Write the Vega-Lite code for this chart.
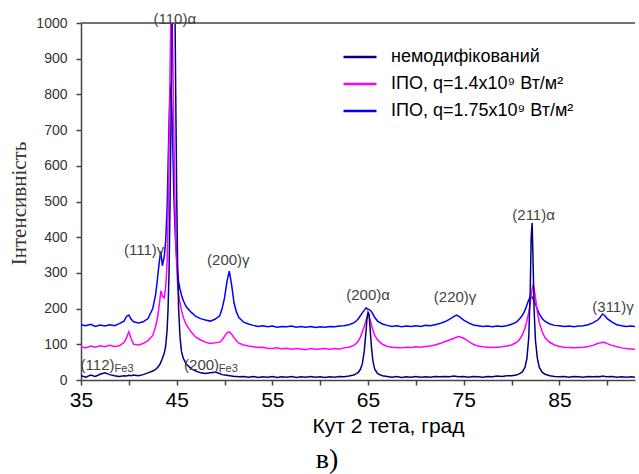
{
  "$schema": "https://vega.github.io/schema/vega-lite/v6.json",
  "width": 554,
  "height": 357,
  "autosize": {"type": "none"},
  "padding": {"left": 81, "top": 23, "right": 4, "bottom": 94},
  "background": "white",
  "config": {
    "font": "Liberation Sans",
    "view": {"stroke": null},
    "axis": {"grid": false, "domainColor": "#444", "tickColor": "#444", "domainWidth": 1.5, "tickWidth": 1.5}
  },
  "title": {"text": "в)", "orient": "bottom", "anchor": "middle", "font": "Liberation Serif", "fontSize": 28, "fontWeight": "normal", "color": "#000", "dx": -31, "offset": 10},
  "datasets": {
    "xrd": [
      {"x":35.0,"n":12,"m":93,"b":155},
      {"x":35.5,"n":8,"m":90,"b":152},
      {"x":36.0,"n":14,"m":95,"b":156},
      {"x":36.5,"n":10,"m":92,"b":150},
      {"x":37.0,"n":16,"m":96,"b":154},
      {"x":37.5,"n":20,"m":93,"b":151},
      {"x":38.0,"n":15,"m":97,"b":155},
      {"x":38.5,"n":12,"m":94,"b":152},
      {"x":39.0,"n":10,"m":96,"b":158},
      {"x":39.5,"n":12,"m":105,"b":165},
      {"x":39.75,"n":11,"m":118,"b":178},
      {"x":40.0,"n":13,"m":135,"b":182},
      {"x":40.25,"n":12,"m":115,"b":170},
      {"x":40.5,"n":14,"m":100,"b":163},
      {"x":41.0,"n":12,"m":98,"b":160},
      {"x":41.5,"n":15,"m":102,"b":163},
      {"x":42.0,"n":20,"m":110,"b":172},
      {"x":42.5,"n":25,"m":125,"b":200},
      {"x":42.8,"n":30,"m":150,"b":240},
      {"x":43.0,"n":35,"m":175,"b":285},
      {"x":43.2,"n":42,"m":215,"b":335},
      {"x":43.35,"n":50,"m":250,"b":360},
      {"x":43.5,"n":60,"m":235,"b":320},
      {"x":43.7,"n":75,"m":230,"b":345},
      {"x":43.85,"n":95,"m":260,"b":390},
      {"x":44.0,"n":140,"m":330,"b":480},
      {"x":44.1,"n":200,"m":450,"b":600},
      {"x":44.2,"n":300,"m":650,"b":720},
      {"x":44.3,"n":480,"m":850,"b":800},
      {"x":44.4,"n":700,"m":1050,"b":830},
      {"x":44.5,"n":950,"m":1050,"b":760},
      {"x":44.6,"n":1200,"m":900,"b":650},
      {"x":44.7,"n":1200,"m":700,"b":520},
      {"x":44.8,"n":1100,"m":520,"b":440},
      {"x":44.9,"n":800,"m":400,"b":380},
      {"x":45.0,"n":520,"m":320,"b":340},
      {"x":45.1,"n":320,"m":270,"b":300},
      {"x":45.2,"n":200,"m":240,"b":275},
      {"x":45.35,"n":120,"m":215,"b":255},
      {"x":45.5,"n":80,"m":195,"b":238},
      {"x":45.7,"n":60,"m":175,"b":222},
      {"x":46.0,"n":45,"m":155,"b":205},
      {"x":46.5,"n":32,"m":135,"b":190},
      {"x":47.0,"n":25,"m":120,"b":178},
      {"x":47.5,"n":20,"m":112,"b":172},
      {"x":48.0,"n":18,"m":106,"b":168},
      {"x":48.5,"n":20,"m":102,"b":165},
      {"x":49.0,"n":22,"m":104,"b":170},
      {"x":49.5,"n":18,"m":106,"b":180},
      {"x":49.75,"n":15,"m":112,"b":200},
      {"x":50.0,"n":14,"m":122,"b":230},
      {"x":50.25,"n":13,"m":132,"b":275},
      {"x":50.5,"n":12,"m":135,"b":305},
      {"x":50.75,"n":11,"m":128,"b":265},
      {"x":51.0,"n":10,"m":118,"b":215},
      {"x":51.25,"n":10,"m":110,"b":190},
      {"x":51.5,"n":9,"m":103,"b":175},
      {"x":52.0,"n":10,"m":98,"b":162},
      {"x":52.5,"n":8,"m":95,"b":157},
      {"x":53.0,"n":10,"m":93,"b":153},
      {"x":53.5,"n":7,"m":91,"b":150},
      {"x":54.0,"n":9,"m":92,"b":152},
      {"x":54.5,"n":8,"m":89,"b":149},
      {"x":55.0,"n":10,"m":88,"b":151},
      {"x":55.5,"n":7,"m":90,"b":148},
      {"x":56.0,"n":9,"m":87,"b":150},
      {"x":56.5,"n":8,"m":89,"b":149},
      {"x":57.0,"n":10,"m":86,"b":151},
      {"x":57.5,"n":7,"m":88,"b":148},
      {"x":58.0,"n":9,"m":87,"b":150},
      {"x":58.5,"n":8,"m":85,"b":148},
      {"x":59.0,"n":10,"m":88,"b":150},
      {"x":59.5,"n":8,"m":86,"b":147},
      {"x":60.0,"n":9,"m":87,"b":149},
      {"x":60.5,"n":7,"m":88,"b":148},
      {"x":61.0,"n":9,"m":86,"b":150},
      {"x":61.5,"n":8,"m":88,"b":149},
      {"x":62.0,"n":10,"m":87,"b":151},
      {"x":62.5,"n":9,"m":90,"b":152},
      {"x":63.0,"n":11,"m":92,"b":155},
      {"x":63.5,"n":14,"m":97,"b":160},
      {"x":63.8,"n":18,"m":103,"b":166},
      {"x":64.0,"n":22,"m":110,"b":172},
      {"x":64.2,"n":30,"m":120,"b":180},
      {"x":64.4,"n":45,"m":135,"b":188},
      {"x":64.6,"n":80,"m":150,"b":195},
      {"x":64.8,"n":140,"m":168,"b":202},
      {"x":64.9,"n":175,"m":175,"b":200},
      {"x":65.0,"n":190,"m":183,"b":198},
      {"x":65.1,"n":185,"m":180,"b":197},
      {"x":65.2,"n":150,"m":170,"b":196},
      {"x":65.35,"n":95,"m":155,"b":192},
      {"x":65.5,"n":55,"m":140,"b":185},
      {"x":65.7,"n":30,"m":125,"b":175},
      {"x":66.0,"n":18,"m":112,"b":165},
      {"x":66.5,"n":12,"m":100,"b":157},
      {"x":67.0,"n":10,"m":94,"b":153},
      {"x":67.5,"n":8,"m":92,"b":150},
      {"x":68.0,"n":10,"m":91,"b":152},
      {"x":68.5,"n":7,"m":90,"b":149},
      {"x":69.0,"n":9,"m":92,"b":151},
      {"x":69.5,"n":8,"m":91,"b":150},
      {"x":70.0,"n":10,"m":93,"b":152},
      {"x":70.5,"n":8,"m":92,"b":150},
      {"x":71.0,"n":9,"m":94,"b":153},
      {"x":71.5,"n":8,"m":95,"b":152},
      {"x":72.0,"n":10,"m":98,"b":155},
      {"x":72.5,"n":9,"m":102,"b":158},
      {"x":73.0,"n":10,"m":107,"b":163},
      {"x":73.5,"n":9,"m":112,"b":170},
      {"x":74.0,"n":11,"m":117,"b":178},
      {"x":74.25,"n":10,"m":120,"b":182},
      {"x":74.5,"n":9,"m":122,"b":178},
      {"x":75.0,"n":10,"m":117,"b":168},
      {"x":75.5,"n":8,"m":108,"b":160},
      {"x":76.0,"n":10,"m":100,"b":154},
      {"x":76.5,"n":9,"m":95,"b":152},
      {"x":77.0,"n":8,"m":93,"b":150},
      {"x":77.5,"n":10,"m":92,"b":151},
      {"x":78.0,"n":9,"m":91,"b":149},
      {"x":78.5,"n":11,"m":92,"b":151},
      {"x":79.0,"n":10,"m":93,"b":150},
      {"x":79.5,"n":12,"m":95,"b":152},
      {"x":80.0,"n":12,"m":98,"b":156},
      {"x":80.5,"n":14,"m":105,"b":162},
      {"x":80.8,"n":17,"m":112,"b":170},
      {"x":81.1,"n":22,"m":125,"b":180},
      {"x":81.4,"n":35,"m":145,"b":195},
      {"x":81.6,"n":60,"m":165,"b":210},
      {"x":81.8,"n":120,"m":190,"b":225},
      {"x":81.95,"n":250,"m":215,"b":233},
      {"x":82.05,"n":400,"m":235,"b":235},
      {"x":82.15,"n":440,"m":255,"b":232},
      {"x":82.25,"n":330,"m":265,"b":228},
      {"x":82.35,"n":200,"m":258,"b":222},
      {"x":82.5,"n":110,"m":230,"b":212},
      {"x":82.7,"n":60,"m":190,"b":198},
      {"x":82.9,"n":35,"m":160,"b":185},
      {"x":83.2,"n":22,"m":135,"b":172},
      {"x":83.5,"n":16,"m":118,"b":164},
      {"x":84.0,"n":12,"m":105,"b":157},
      {"x":84.5,"n":10,"m":98,"b":153},
      {"x":85.0,"n":9,"m":94,"b":152},
      {"x":85.5,"n":10,"m":92,"b":150},
      {"x":86.0,"n":8,"m":91,"b":151},
      {"x":86.5,"n":10,"m":90,"b":149},
      {"x":87.0,"n":9,"m":91,"b":151},
      {"x":87.5,"n":8,"m":92,"b":152},
      {"x":88.0,"n":10,"m":94,"b":155},
      {"x":88.5,"n":9,"m":97,"b":160},
      {"x":89.0,"n":10,"m":102,"b":168},
      {"x":89.25,"n":9,"m":104,"b":175},
      {"x":89.5,"n":11,"m":106,"b":185},
      {"x":89.75,"n":10,"m":105,"b":180},
      {"x":90.0,"n":9,"m":102,"b":172},
      {"x":90.5,"n":10,"m":97,"b":162},
      {"x":91.0,"n":8,"m":93,"b":155},
      {"x":91.5,"n":9,"m":90,"b":152},
      {"x":92.0,"n":8,"m":88,"b":150},
      {"x":92.5,"n":9,"m":87,"b":151},
      {"x":92.9,"n":8,"m":86,"b":150}
    ],
    "labels": [
      {"x":44.8,"y":1012,"t":"(110)α"},
      {"x":41.6,"y":364,"t":"(111)γ"},
      {"x":50.4,"y":336,"t":"(200)γ"},
      {"x":65.0,"y":238,"t":"(200)α"},
      {"x":74.1,"y":233,"t":"(220)γ"},
      {"x":82.3,"y":462,"t":"(211)α"},
      {"x":90.6,"y":205,"t":"(311)γ"},
      {"x":36.73,"y":42,"t":"(112)"},
      {"x":47.6,"y":42,"t":"(200)"}
    ],
    "subs": [
      {"x":39.5,"y":30,"t":"Fe3"},
      {"x":50.4,"y":30,"t":"Fe3"}
    ],
    "top": [{"y": 1000}]
  },
  "layer": [
    {
      "data": {"name": "xrd"},
      "transform": [{"fold": ["b", "m", "n"]}],
      "mark": {"type": "line", "strokeWidth": 1.5, "clip": true},
      "encoding": {
        "x": {"field": "x", "type": "quantitative",
          "scale": {"domain": [35, 92.9], "nice": false, "zero": false},
          "axis": {"values": [35,40,45,50,55,60,65,70,75,80,85,90], "tickCount": 20,
            "labelExpr": "(datum.value - 35) % 10 == 0 ? datum.label : ''",
            "labelFontSize": 21, "labelColor": "#000", "labelPadding": 4, "tickSize": 5,
            "title": "Кут 2 тета, град", "titleFontSize": 21, "titleFontWeight": "normal", "titleColor": "#000",
            "titleX": 307, "titleY": 52, "titleBaseline": "alphabetic", "labelFlush": false}},
        "y": {"field": "value", "type": "quantitative",
          "scale": {"domain": [0, 1000], "nice": false},
          "axis": {"values": [0,100,200,300,400,500,600,700,800,900,1000], "tickCount": 20, "format": "d", "labelOverlap": false,
            "labelFontSize": 14, "labelColor": "#333", "labelPadding": 9, "tickSize": 5,
            "title": "Інтенсивність", "titleFont": "Liberation Serif", "titleFontSize": 21, "titleFontWeight": "normal", "titleColor": "#333",
            "titleX": -52, "titleY": 180}},
        "color": {"field": "key", "type": "nominal",
          "scale": {"domain": ["n", "m", "b"], "range": ["#000080", "#ff00ff", "#0000ff"]},
          "legend": {"orient": "none", "legendX": 261, "legendY": 16, "title": null,
            "labelExpr": "datum.value == 'n' ? 'немодифікований' : datum.value == 'm' ? 'ІПО, q=1.4x10⁹ Вт/м²' : 'ІПО, q=1.75x10⁹ Вт/м²'",
            "labelFontSize": 18, "labelColor": "#000", "labelLimit": 0, "symbolType": "stroke", "symbolSize": 1089, "symbolStrokeWidth": 2.5,
            "labelOffset": 13, "rowPadding": -1, "padding": 0}}
      }
    },
    {
      "data": {"name": "top"},
      "mark": {"type": "rule", "color": "#444", "strokeWidth": 1.5},
      "encoding": {"y": {"field": "y", "type": "quantitative"}}
    },
    {
      "data": {"name": "labels"},
      "mark": {"type": "text", "fontSize": 15, "color": "#444", "baseline": "middle", "align": "center"},
      "encoding": {
        "x": {"field": "x", "type": "quantitative"},
        "y": {"field": "y", "type": "quantitative"},
        "text": {"field": "t"}
      }
    },
    {
      "data": {"name": "subs"},
      "mark": {"type": "text", "fontSize": 11, "color": "#444", "baseline": "middle", "align": "center"},
      "encoding": {
        "x": {"field": "x", "type": "quantitative"},
        "y": {"field": "y", "type": "quantitative"},
        "text": {"field": "t"}
      }
    }
  ]
}
